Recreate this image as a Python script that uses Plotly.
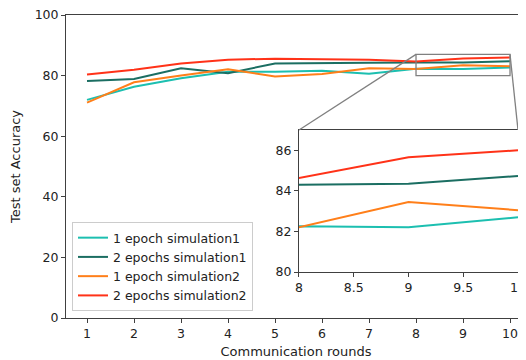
import plotly.graph_objects as go

rounds = [1, 2, 3, 4, 5, 6, 7, 8, 9, 10]
names = ["1 epoch simulation1", "2 epochs simulation1",
         "1 epoch simulation2", "2 epochs simulation2"]
acc_1ep_sim1 = [72.0, 76.3, 79.1, 81.3, 81.3, 81.6, 80.6, 82.25, 82.2, 82.7]
acc_2ep_sim1 = [78.2, 78.9, 82.4, 80.8, 84.0, 84.0, 84.2, 84.3, 84.35, 84.73]
acc_1ep_sim2 = [71.1, 77.8, 80.0, 82.1, 79.7, 80.5, 82.4, 82.2, 83.45, 83.05]
acc_2ep_sim2 = [80.4, 81.9, 84.0, 85.2, 85.6, 85.4, 85.2, 84.63, 85.66, 86.0]
series = [acc_1ep_sim1, acc_2ep_sim1, acc_1ep_sim2, acc_2ep_sim2]
colors = ["#1CBFB0", "#1B6E62", "#FF7F1A", "#FF3218"]

x_ticks = [1, 2, 3, 4, 5, 6, 7, 8, 9, 10]
y_ticks = [0, 20, 40, 60, 80, 100]
inset_x_ticks = [8, 8.5, 9, 9.5, 10]
inset_y_ticks = [80, 82, 84, 86]

main_xr = [0.553, 10.34]
main_yr = [0, 100]
inset_xr = [8, 10]
inset_yr = [80, 87]
inset_xdom = [0.5065, 0.9826]
inset_ydom = [0.1518, 0.6205]

# page body has an 8px margin, so the figure is 8px smaller on each axis
W, H = 518, 352
ML, MR, MT, MB = 58, 0, 7, 42

FONT = "DejaVu Sans"
FS = 12.5
FT = 13
AX = "#404040"
TXT = "#222222"

fig = go.Figure()
for name, ys, c in zip(names, series, colors):
    fig.add_trace(go.Scatter(x=rounds, y=ys, mode="lines", name=name,
                             line=dict(color=c, width=2), xaxis="x", yaxis="y"))
for name, ys, c in zip(names, series, colors):
    fig.add_trace(go.Scatter(x=rounds, y=ys, mode="lines", name=name,
                             line=dict(color=c, width=2), xaxis="x2", yaxis="y2",
                             showlegend=False))


def to_paper_x(v):
    return (v - main_xr[0]) / (main_xr[1] - main_xr[0])


def to_paper_y(v):
    return (v - main_yr[0]) / (main_yr[1] - main_yr[0])


gray = "#808080"
shapes = [
    dict(type="rect", xref="x", yref="y", x0=inset_xr[0], x1=inset_xr[1],
         y0=inset_yr[0], y1=inset_yr[1], line=dict(color=gray, width=1.3),
         fillcolor="rgba(0,0,0,0)", layer="above"),
    dict(type="line", xref="paper", yref="paper",
         x0=to_paper_x(inset_xr[0]), y0=to_paper_y(inset_yr[1]),
         x1=inset_xdom[0], y1=inset_ydom[1], line=dict(color=gray, width=1.3), layer="above"),
    dict(type="line", xref="paper", yref="paper",
         x0=to_paper_x(inset_xr[1]), y0=to_paper_y(inset_yr[1]),
         x1=inset_xdom[1], y1=inset_ydom[1], line=dict(color=gray, width=1.3), layer="above"),
]

axis_common = dict(showgrid=False, zeroline=False, ticks="outside", ticklen=4,
                   tickwidth=1, tickcolor=AX, linecolor=AX, linewidth=1,
                   showline=True, automargin=False, ticklabeloverflow="allow",
                   tickfont=dict(family=FONT, size=FS, color=TXT))

fig.update_layout(
    width=W, height=H,
    margin=dict(l=ML, r=MR, t=MT, b=MB, autoexpand=False),
    paper_bgcolor="white", plot_bgcolor="white",
    font=dict(family=FONT, size=FS, color=TXT),
    xaxis=dict(range=main_xr, tickvals=x_ticks, mirror=True, domain=[0, 1],
               title=dict(text="Communication rounds", standoff=6,
                          font=dict(family=FONT, size=FT, color=TXT)),
               **axis_common),
    yaxis=dict(range=main_yr, tickvals=y_ticks, mirror=True, domain=[0, 1],
               title=dict(text="Test set Accuracy", standoff=17,
                          font=dict(family=FONT, size=FT, color=TXT)),
               **axis_common),
    xaxis2=dict(range=inset_xr, tickvals=inset_x_ticks, ticktext=["8", "8.5", "9", "9.5", "10"],
                domain=inset_xdom, anchor="y2", mirror=True, **axis_common),
    yaxis2=dict(range=inset_yr, tickvals=inset_y_ticks, domain=inset_ydom,
                anchor="x2", mirror=True, **axis_common),
    shapes=shapes,
    legend=dict(x=0.013, y=0.023, xanchor="left", yanchor="bottom",
                bgcolor="rgba(255,255,255,0.9)", bordercolor="#cccccc", borderwidth=1,
                font=dict(family=FONT, size=FS, color=TXT),
                tracegroupgap=0, itemwidth=30),
    showlegend=True,
)

fig.write_html("out.html")
